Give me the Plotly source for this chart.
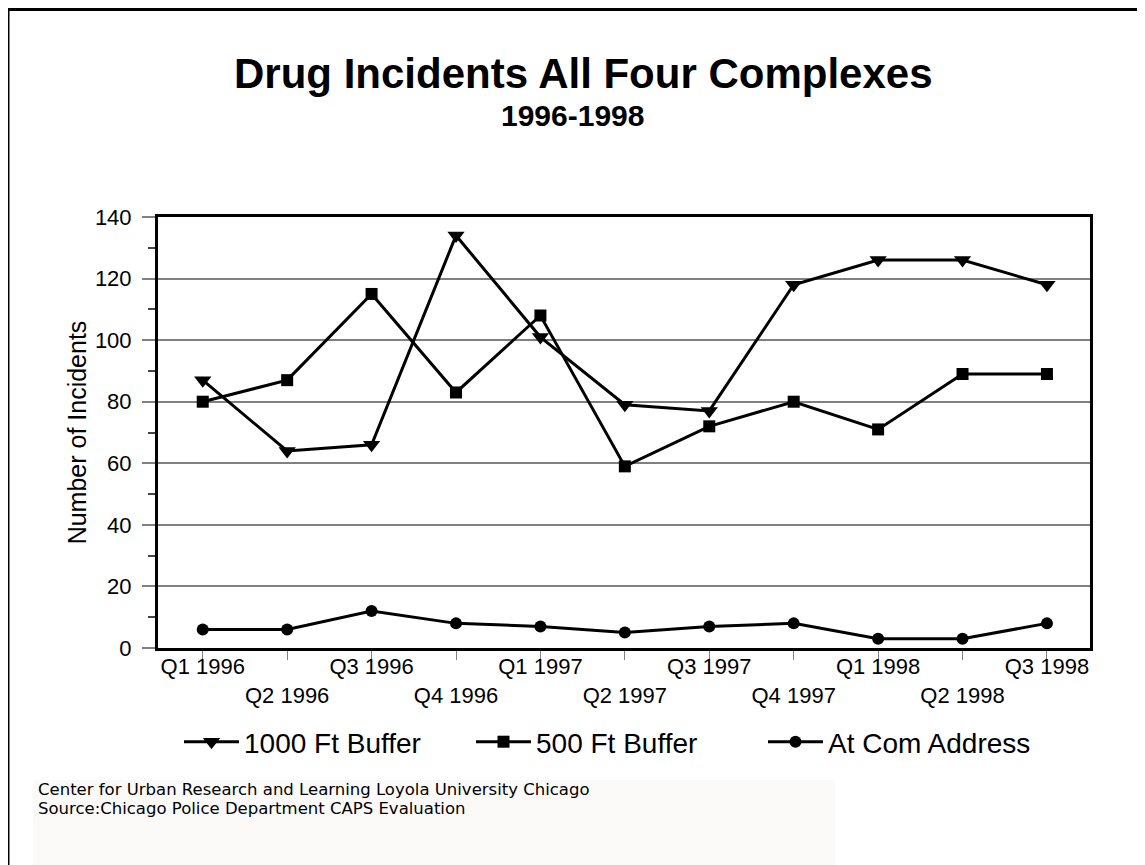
"""Drug incidents chart"""
import plotly.graph_objects as go

quarters = ["Q1 1996", "Q2 1996", "Q3 1996", "Q4 1996", "Q1 1997", "Q2 1997",
            "Q3 1997", "Q4 1997", "Q1 1998", "Q2 1998", "Q3 1998"]
buffer_1000 = [87, 64, 66, 134, 101, 79, 77, 118, 126, 126, 118]
buffer_500 = [80, 87, 115, 83, 108, 59, 72, 80, 71, 89, 89]
at_address = [6, 6, 12, 8, 7, 5, 7, 8, 3, 3, 8]

# ラベルを2段に交互配置
tick_text = [q if i % 2 == 0 else "<br>" + q for i, q in enumerate(quarters)]

FONT = "Arial, Liberation Sans, sans-serif"
W, H = 1137, 857  # ページ余白8pxを引いたサイズ

# プロット領域（図内ピクセル）
L, R, T, B = 150, 1082, 209, 640


def px(x):
    return (x - L) / (R - L)


def py(y):
    return (B - y) / (B - T)


fig = go.Figure()

series = [
    ("1000 Ft Buffer", buffer_1000, "triangle-down", 15),
    ("500 Ft Buffer", buffer_500, "square", 12),
    ("At Com Address", at_address, "circle", 12),
]
for name, values, symbol, size in series:
    fig.add_trace(
        go.Scatter(
            x=quarters,
            y=values,
            name=name,
            mode="lines+markers",
            line=dict(color="black", width=3),
            marker=dict(symbol=symbol, size=size, color="black"),
        )
    )

# タイトル・注記
annotations = [
    dict(text="<b>Drug Incidents All Four Complexes</b>", x=px(575), y=py(65),
         xref="paper", yref="paper", showarrow=False, yanchor="middle",
         font=dict(size=42, color="black", family=FONT)),
    dict(text="<b>1996-1998</b>", x=px(564), y=py(107),
         xref="paper", yref="paper", showarrow=False, yanchor="middle",
         font=dict(size=30, color="black", family=FONT)),
    dict(text="Center for Urban Research and Learning Loyola University Chicago",
         x=px(28), y=py(781), xref="paper", yref="paper",
         showarrow=False, xanchor="left", yanchor="middle",
         font=dict(size=16.5, color="black", family="DejaVu Sans")),
    dict(text="Source:Chicago Police Department CAPS Evaluation",
         x=px(28), y=py(800), xref="paper", yref="paper",
         showarrow=False, xanchor="left", yanchor="middle",
         font=dict(size=16.5, color="black", family="DejaVu Sans")),
]

shapes = [
    # 外枠（上・左）
    dict(type="line", xref="paper", yref="paper",
         x0=px(0), x1=px(W), y0=py(1.5), y1=py(1.5),
         line=dict(color="black", width=3)),
    dict(type="line", xref="paper", yref="paper",
         x0=px(0), x1=px(0), y0=py(0), y1=py(H),
         line=dict(color="black", width=3)),
    # 注記の背景
    dict(type="rect", xref="paper", yref="paper", layer="below",
         x0=px(25), x1=px(827), y0=py(772), y1=py(H),
         fillcolor="#fbfaf9", line=dict(width=0)),
]

fig.update_layout(
    width=W,
    height=H,
    margin=dict(l=L, r=W - R, t=T, b=H - B),
    paper_bgcolor="white",
    plot_bgcolor="white",
    font=dict(family=FONT, color="black"),
    showlegend=True,
    legend=dict(orientation="h", x=px(609), xanchor="center",
                y=py(734), yanchor="middle",
                font=dict(size=28, family=FONT), itemwidth=55,
                entrywidth=222, entrywidthmode="pixels",
                bgcolor="rgba(0,0,0,0)"),
    annotations=annotations,
    shapes=shapes,
    xaxis=dict(
        type="category",
        range=[-0.53, 10.51],
        tickvals=quarters,
        ticktext=tick_text,
        tickangle=0,
        tickfont=dict(size=22),
        ticklabelstandoff=-12,
        ticks="outside", ticklen=9, tickwidth=1, tickcolor="#808080",
        showline=True, linecolor="black", linewidth=3, mirror=True,
        showgrid=False, zeroline=False,
    ),
    yaxis=dict(
        range=[0, 140],
        dtick=20,
        tickfont=dict(size=22),
        ticks="outside", ticklen=13, tickwidth=2, tickcolor="#808080",
        ticklabelstandoff=6,
        minor=dict(dtick=10, ticks="outside", ticklen=7, tickcolor="#444444",
                   showgrid=False),
        showgrid=True, gridcolor="#808080", gridwidth=2,
        showline=True, linecolor="black", linewidth=3, mirror=True,
        zeroline=False,
        title=dict(text="Number of Incidents", font=dict(size=25), standoff=2),
    ),
)

fig.write_html("out.html")
